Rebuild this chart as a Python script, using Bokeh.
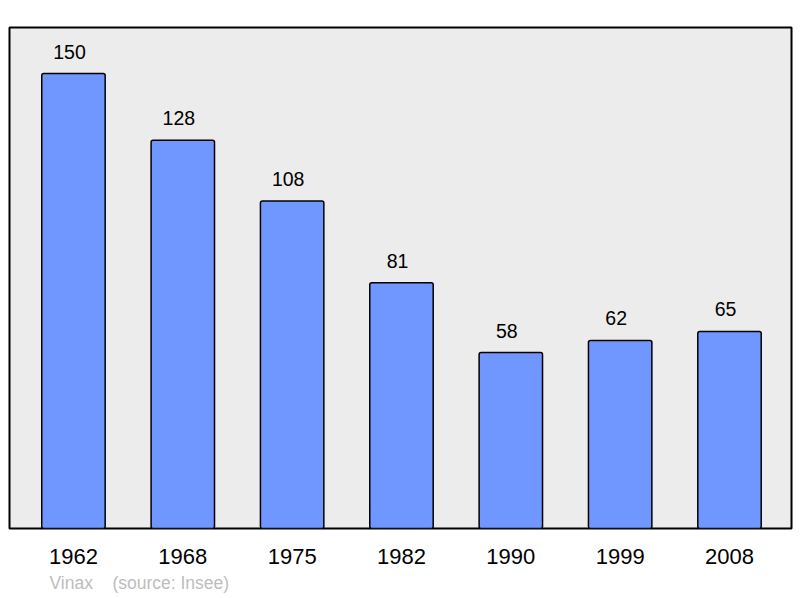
from bokeh.plotting import figure
from bokeh.models import ColumnDataSource, Range1d, FixedTicker, Title
from bokeh.embed import file_html
from bokeh.resources import INLINE

years = ["1962", "1968", "1975", "1982", "1990", "1999", "2008"]
population = [150, 128, 108, 81, 58, 62, 65]
credit = "Vinax    (source: Insee)"

xs = list(range(len(years)))
px_per_unit = 455 / 150.0
label_y = [v + 22 / px_per_unit for v in population]
labels = [str(v) for v in population]

src = ColumnDataSource(dict(x=xs, top=population, ly=label_y, lab=labels))

p = figure(width=800, height=598, output_backend="svg", toolbar_location=None,
           x_range=Range1d(-0.585, 6.567), y_range=Range1d(0, 165.2),
           min_border_left=9, min_border_right=9, min_border_top=27, min_border_bottom=70)
p.background_fill_color = "#ececec"
p.border_fill_color = "white"
p.outline_line_color = "black"
p.outline_line_width = 2
p.grid.visible = False
p.yaxis.visible = False

p.vbar(x="x", top="top", bottom=0, width=0.58, source=src,
       fill_color="#7097ff", line_color="black", line_width=1.5, border_radius=2)
p.text(x="x", y="ly", text="lab", source=src, text_align="center",
       text_baseline="middle", text_font_size="19.5px", text_color="black",
       x_offset=-4, text_font={"value": "Liberation Sans"})

ax = p.xaxis[0]
ax.ticker = FixedTicker(ticks=xs)
ax.major_label_overrides = {i: y for i, y in enumerate(years)}
ax.axis_line_color = None
ax.major_tick_line_color = None
ax.minor_tick_line_color = None
ax.major_label_text_font = "Liberation Sans"
ax.major_label_text_font_size = "22px"
ax.major_label_text_color = "black"
ax.major_label_standoff = 14

p.add_layout(Title(text=credit.replace(" ", "\u00a0"), align="left", offset=40, standoff=9,
                   text_font="Liberation Sans", text_font_size="17.5px",
                   text_font_style="normal", text_color="#bdbdbd"), "below")

open("out.html", "w").write(file_html(p, INLINE))
